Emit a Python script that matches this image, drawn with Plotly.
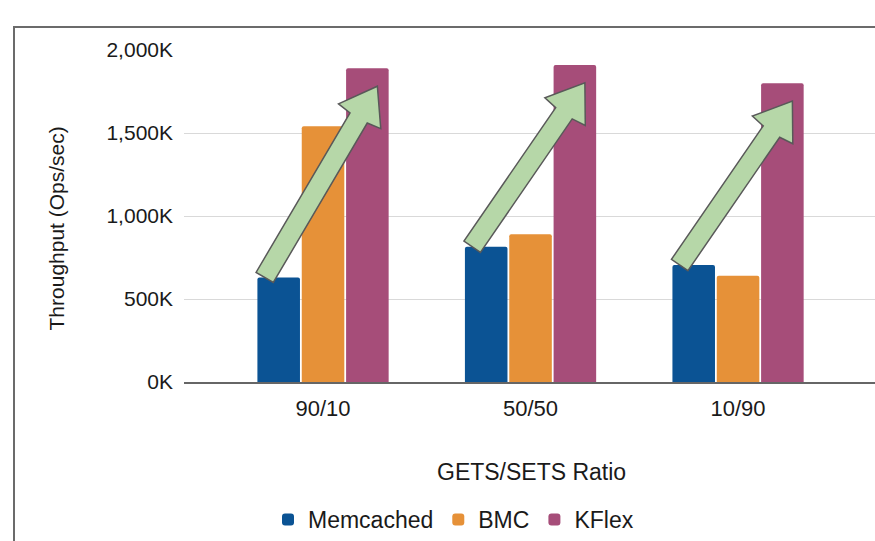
import plotly.graph_objects as go

# ---- data ----
categories = ["90/10", "50/50", "10/90"]
memcached = [630, 815, 705]      # K ops/sec
bmc = [1540, 890, 640]
kflex = [1890, 1910, 1800]
series_names = ["Memcached", "BMC", "KFlex"]
ytick_vals = [0, 500, 1000, 1500, 2000]
ytick_text = ["0K", "500K", "1,000K", "1,500K", "2,000K"]

# ---- layout geometry ----
W, H = 875, 541
ML, MR, MT, MB = 184, 0, 50, 158
PW, PH = W - ML - MR, H - MT - MB
XR = [-0.67, 2.66]
YR = [0, 2000]
BARGAP = 0.359
FONT = "Liberation Sans, Arial, sans-serif"
TXT = "#1a1a1a"
colors = ["#0b5394", "#e69138", "#a64d79"]

def px_x(xv):
    return ML + (xv - XR[0]) / (XR[1] - XR[0]) * PW

def px_y(yv):
    return MT + (YR[1] - yv) / (YR[1] - YR[0]) * PH

def to_paper(px, py):
    return (px - ML) / PW, (MT + PH - py) / PH

fig = go.Figure()
for name, vals, c in zip(series_names, [memcached, bmc, kflex], colors):
    fig.add_trace(go.Bar(x=categories, y=vals, name=name,
                         marker=dict(color=c, line=dict(width=0), cornerradius=2)))

# ---- green block arrows from Memcached top to KFlex top ----
slot = (1 - BARGAP) / 3
shapes = []
for i in range(len(categories)):
    tx, ty = px_x(i - slot) - 14, px_y(memcached[i])
    hx, hy = px_x(i + slot) + 10, px_y(kflex[i]) + 18
    dx, dy = hx - tx, hy - ty
    L = (dx * dx + dy * dy) ** 0.5
    ux, uy = dx / L, dy / L
    nx, ny = -uy, ux
    sw, hw, hl = 10, 24.5, 35
    pts = [
        (tx + nx * sw, ty + ny * sw),
        (hx - ux * (hl + 2) + nx * sw, hy - uy * (hl + 2) + ny * sw),
        (hx - ux * hl + nx * hw, hy - uy * hl + ny * hw),
        (hx, hy),
        (hx - ux * hl - nx * hw, hy - uy * hl - ny * hw),
        (hx - ux * (hl + 2) - nx * sw, hy - uy * (hl + 2) - ny * sw),
        (tx - nx * sw, ty - ny * sw),
    ]
    pp = [to_paper(a, b) for a, b in pts]
    path = "M " + " L ".join(f"{a:.5f},{b:.5f}" for a, b in pp) + " Z"
    shapes.append(dict(type="path", xref="paper", yref="paper", path=path,
                       fillcolor="#b6d7a8", line=dict(color="#595959", width=1.5),
                       layer="above"))

# outer frame
fx0, fy1 = to_paper(14, 27)
fx1, fy0 = to_paper(900, 560)
shapes.append(dict(type="rect", xref="paper", yref="paper", x0=fx0, x1=fx1, y0=fy0, y1=fy1,
                   line=dict(color="#6b6b6b", width=2), fillcolor="rgba(0,0,0,0)", layer="below"))

ax_t_x, ax_t_y = to_paper(531, 473)
ay_t_x, ay_t_y = to_paper(56, 229)
leg_x, leg_y = to_paper(268, 521)

fig.update_layout(
    width=W, height=H,
    margin=dict(l=ML, r=MR, t=MT, b=MB, pad=0),
    paper_bgcolor="white", plot_bgcolor="white",
    barmode="group", bargap=BARGAP, bargroupgap=0.04,
    font=dict(family=FONT, color=TXT),
    shapes=shapes,
    showlegend=True,
    legend=dict(orientation="h", x=leg_x, y=leg_y, xanchor="left", yanchor="middle",
                font=dict(size=23, color=TXT), itemsizing="constant",
                bgcolor="rgba(0,0,0,0)", tracegroupgap=0),
    xaxis=dict(type="category", range=XR, showgrid=False, showline=True,
               linecolor="#666666", linewidth=1.5, ticks="", tickfont=dict(size=22, color=TXT),
               ticklabelstandoff=6, fixedrange=True),
    yaxis=dict(range=YR, tickvals=ytick_vals, ticktext=ytick_text, showgrid=True,
               gridcolor="#d9d9d9", gridwidth=1, zeroline=False, showline=False,
               ticks="", tickfont=dict(size=21, color=TXT), ticklabelstandoff=10, fixedrange=True),
    annotations=[
        dict(text="GETS/SETS Ratio", xref="paper", yref="paper", x=ax_t_x, y=ax_t_y,
             showarrow=False, font=dict(size=23, color=TXT), xanchor="center", yanchor="middle"),
        dict(text="Throughput (Ops/sec)", xref="paper", yref="paper", x=ay_t_x, y=ay_t_y,
             showarrow=False, textangle=-90, font=dict(size=21, color=TXT),
             xanchor="center", yanchor="middle"),
    ],
)

fig.write_html("out.html")
